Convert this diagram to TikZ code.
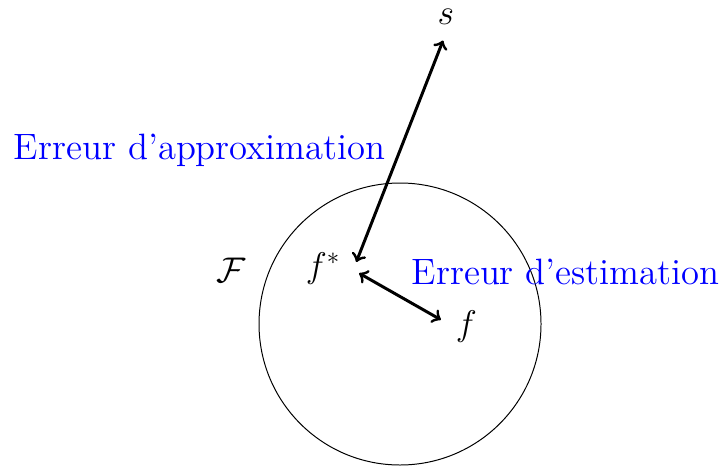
\documentclass[tikz,border=0pt]{standalone}
\begin{document}
\begin{tikzpicture}[
  lab/.style={font=\fontsize{14.8}{18}\selectfont, inner sep=0pt},
  bluelab/.style={font=\fontsize{14.8}{18}\selectfont, text=blue, inner sep=0pt},
  arr/.style={very thick, <->}
]
\useasboundingbox (-5.674,-2.0) rectangle (4.553,4.596);
\node[circle, draw, minimum size=4cm, inner sep=0pt] (F) at (0,0) {};
\node[lab] (s) at (0.65,4.36) {$s$};
\node[lab] (fs) at (-1.09,0.78) {$f^*$};
\node[lab] (f) at (0.94,-0.03) {$f$};
\node[lab] (Fl) at (-2.4,0.76) {$\mathcal{F}$};
\node[bluelab] (ea) at (-2.84,2.46) {Erreur d'approximation};
\node[bluelab] (ee) at (2.35,0.74) {Erreur d'estimation};
\coordinate (a1) at (-0.62,0.88);
\coordinate (a2) at (0.61,4.02);
\coordinate (b1) at (-0.58,0.72);
\coordinate (b2) at (0.58,0.06);
\draw[arr] (a1) -- (a2);
\draw[arr] (b1) -- (b2);
\end{tikzpicture}
\end{document}
